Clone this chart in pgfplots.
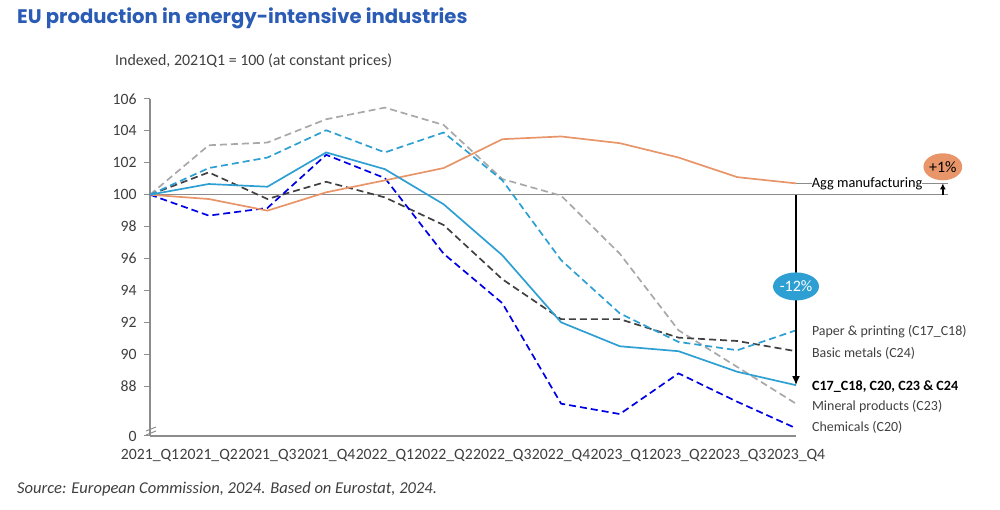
\documentclass[border=0pt]{standalone}
\usepackage{pgfplots}
\pgfplotsset{compat=1.18}
\usepackage{fontspec}
\setmainfont{Carlito}
\newfontfamily\titlefont{Poppins}
\usetikzlibrary{arrows.meta,shapes.geometric}

\definecolor{titleblue}{HTML}{2B5CB5}
\definecolor{aggorange}{HTML}{E8956A}
\definecolor{lblue}{HTML}{2E9FD3}
\definecolor{dgray}{HTML}{404040}
\definecolor{lgray}{HTML}{A8A8A8}
\definecolor{chemblue}{HTML}{0000E6}
\definecolor{axgray}{HTML}{8C8C8C}
\definecolor{txtgray}{HTML}{3F3F3F}

\begin{document}
\begin{tikzpicture}[x=1bp,y=1bp]
\path[use as bounding box] (0,0) rectangle (1000,510);

\begin{axis}[
  at={(150bp,74bp)}, anchor=south west,
  scale only axis, width=646bp, height=337bp,
  xmin=0, xmax=11, ymin=84.875, ymax=106,
  axis x line*=bottom, axis y line*=left,
  axis line style={axgray, line width=1.2bp},
  xtick={0,...,11},
  xticklabels={2021\_Q1,2021\_Q2,2021\_Q3,2021\_Q4,2022\_Q1,2022\_Q2,2022\_Q3,2022\_Q4,2023\_Q1,2023\_Q2,2023\_Q3,2023\_Q4},
  x tick style={draw=none},
  xticklabel style={yshift=-4bp},
  yticklabel style={xshift=-4bp},
  ytick={84.875,88,90,92,94,96,98,100,102,104,106},
  yticklabels={0,88,90,92,94,96,98,100,102,104,106},
  y tick style={axgray, line width=1bp},
  tick align=outside, major tick length=6bp,
  tick label style={font=\fontsize{15.8}{18}\selectfont, text=txtgray},
  /pgf/number format/assume math mode=true,
  clip=false,
  every axis plot/.append style={line width=1.7bp},
]

% reference line at 100
\draw[axgray, line width=1.2bp] (axis cs:0,100) -- (axis cs:13.59,100);

\addplot[lgray, dash pattern=on 7bp off 4bp] coordinates {
(0,100) (1,103.1) (2,103.27) (3,104.73) (4,105.46) (5,104.37)
(6,100.98) (7,99.94) (8,96.3) (9,91.5) (10,89.2) (11,86.9)};

\addplot[dgray, dash pattern=on 7bp off 4bp] coordinates {
(0,100) (1,101.4) (2,99.73) (3,100.81) (4,99.83) (5,98.1)
(6,94.7) (7,92.2) (8,92.2) (9,91.04) (10,90.83) (11,90.19)};

\addplot[lblue, dash pattern=on 7bp off 4bp] coordinates {
(0,100) (1,101.67) (2,102.33) (3,104.04) (4,102.65) (5,103.9)
(6,100.9) (7,95.9) (8,92.56) (9,90.77) (10,90.25) (11,91.5)};

\addplot[chemblue, dash pattern=on 7bp off 4bp] coordinates {
(0,100) (1,98.69) (2,99.17) (3,102.5) (4,101.04) (5,96.3)
(6,93.2) (7,86.9) (8,86.25) (9,88.8) (10,87.02) (11,85.36)};

\addplot[aggorange] coordinates {
(0,100) (1,99.73) (2,99.0) (3,100.15) (4,100.9) (5,101.67)
(6,103.48) (7,103.65) (8,103.23) (9,102.33) (10,101.1) (11,100.71)};

\addplot[lblue] coordinates {
(0,100) (1,100.67) (2,100.5) (3,102.65) (4,101.6) (5,99.4)
(6,96.2) (7,92.0) (8,90.5) (9,90.19) (10,88.9) (11,88.06)};

% axis break marks
\draw[axgray, line width=1bp] ([xshift=-4bp,yshift=1bp]axis cs:0,84.875) -- ++(10bp,4bp);
\draw[axgray, line width=1bp] ([xshift=-4bp,yshift=5bp]axis cs:0,84.875) -- ++(10bp,4bp);

% -12% arrow
\draw[black, line width=2.6bp, -{Latex[length=9bp,width=8bp]}] (axis cs:11,100) -- (axis cs:11,88.06);
\node[ellipse, fill=lblue, text=white, inner sep=0pt, minimum width=46bp, minimum height=28bp,
  font=\fontsize{16}{18}\selectfont] at (axis cs:11,94.25) {-12\%};

% Agg manufacturing label and +1% marker
\draw[axgray, line width=1bp] (axis cs:11,100.71) -- (axis cs:11.27,100.71);
\draw[axgray, line width=1bp] (axis cs:13.15,100.71) -- (axis cs:13.59,100.71);
\node[anchor=west, inner sep=1bp, font=\fontsize{14.4}{16}\selectfont, text=black] at (axis cs:11.25,100.71) {Agg manufacturing};
\draw[black, line width=1.4bp, -{Latex[length=6bp,width=6bp]}] (axis cs:13.5,100) -- (axis cs:13.5,100.71);
\node[ellipse, fill=aggorange, text=black, inner sep=0pt, minimum width=38bp, minimum height=27bp,
  font=\fontsize{16}{18}\selectfont] at (axis cs:13.5,101.75) {+1\%};

% series labels
\begin{scope}[every node/.style={anchor=west, inner sep=0pt, font=\fontsize{14}{16}\selectfont, text=txtgray}]
\node at (axis cs:11.27,91.4) {Paper \& printing (C17\_C18)};
\node at (axis cs:11.27,90.05) {Basic metals (C24)};
\node[text=black, font=\fontsize{14.2}{16}\selectfont\bfseries] at (axis cs:11.27,88.0) {C17\_C18, C20, C23 \& C24};
\node at (axis cs:11.27,86.7) {Mineral products (C23)};
\node at (axis cs:11.27,85.42) {Chemicals (C20)};
\end{scope}

\end{axis}

% title, subtitle, source
\node[anchor=west, inner sep=0pt, text=titleblue, font=\titlefont\bfseries\fontsize{19.7}{22}\selectfont] at (17,492) {EU production in energy-intensive industries};
\node[anchor=west, inner sep=0pt, text=txtgray, font=\fontsize{16}{18}\selectfont] at (115,449) {Indexed, 2021Q1 = 100 (at constant prices)};
\node[anchor=west, inner sep=0pt, text=txtgray, font=\itshape\fontsize{16.6}{18}\selectfont] at (17,21) {Source: European Commission, 2024. Based on Eurostat, 2024.};
\end{tikzpicture}
\end{document}
